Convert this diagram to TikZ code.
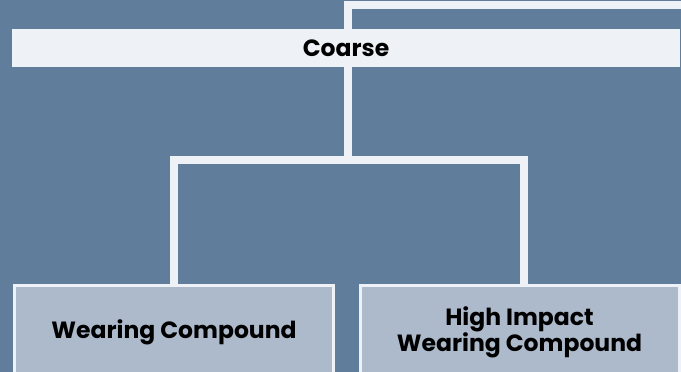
\documentclass[tikz,border=0pt]{standalone}
\usepackage{fontspec}
\setmainfont{Poppins}[BoldFont={* Bold}]
\usetikzlibrary{positioning}
\definecolor{slate}{RGB}{96,126,155}
\definecolor{paper}{RGB}{238,241,246}
\definecolor{mist}{RGB}{173,186,203}
\tikzset{
	bar/.style={fill=paper, minimum width=668pt, minimum height=38pt, inner sep=0pt},
	leaf/.style={fill=mist, draw=paper, line width=3pt, minimum width=319pt, minimum height=93pt, inner sep=0pt, align=center},
	link/.style={draw=paper, line width=8pt}
}
\begin{document}
\begin{tikzpicture}[x=1pt, y=-1pt, font=\fontsize{23.5}{26}\selectfont\bfseries]
				\useasboundingbox[fill=slate] (0,0) rectangle (681,372);
				\coordinate (split) at (347.5,160);
				\coordinate (offpage) at (690,5);
				\node[bar] (coarse) at (346,48) {Coarse};
				\node[leaf] (wear) at (174,332) {Wearing Compound};
				\node[leaf] (hiwear) at (519.5,332) {High Impact\\Wearing Compound};
				\draw[link] (coarse.north -| split) |- (offpage);
				\draw[link] (coarse.south -| split) -- (split);
				\draw[link] (wear.north) |- (split) -| ([xshift=4.5pt]hiwear.north);
			\end{tikzpicture}
\end{document}
